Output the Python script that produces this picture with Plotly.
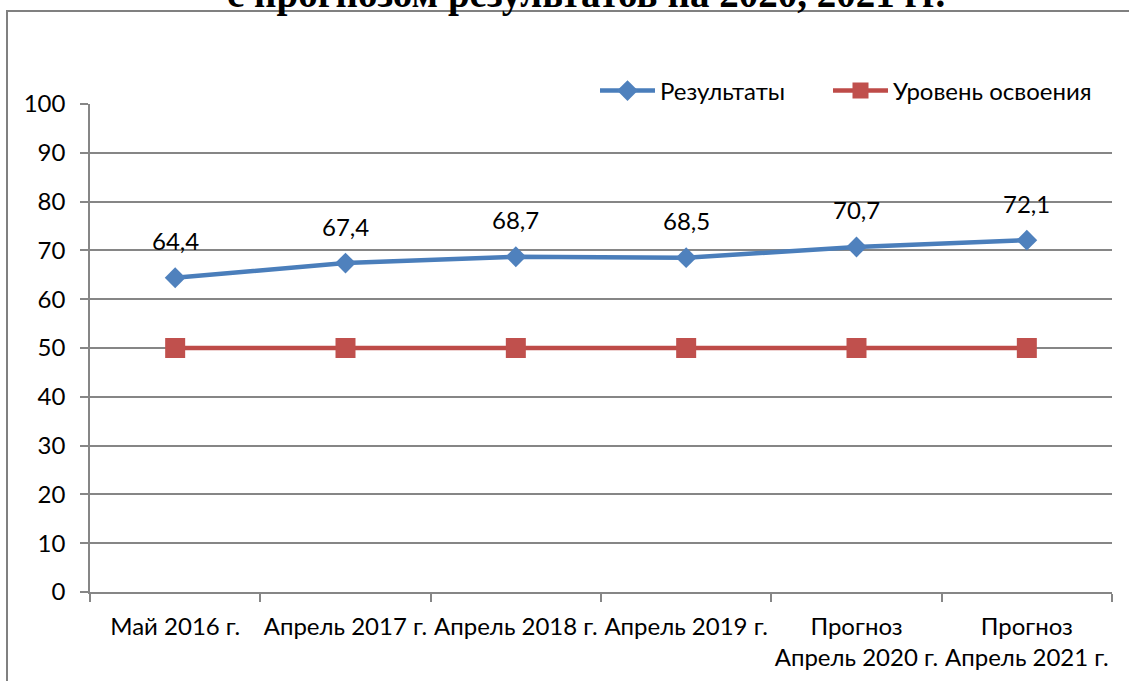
import plotly.graph_objects as go

categories = ["Май 2016 г.", "Апрель 2017 г.", "Апрель 2018 г.", "Апрель 2019 г.",
              "Прогноз<br>Апрель 2020 г.", "Прогноз<br>Апрель 2021 г."]
results = [64.4, 67.4, 68.7, 68.5, 70.7, 72.1]
mastery = [50, 50, 50, 50, 50, 50]
y_ticks = [0, 10, 20, 30, 40, 50, 60, 70, 80, 90, 100]
title_text = "с прогнозом результатов на 2020, 2021 гг."

FONT = "Lato"
FS = 24
BLUE = "#4A7EBB"
RED = "#BE4B48"
GRID = "#868686"

# plot area in pixels
W, H = 1129, 681
L, R, T, B = 90, 17, 104, 89
pw, ph = W - L - R, H - T - B

def px_x(x):
    return (x - L) / pw

def px_y(y):
    return (H - B - y) / ph

fig = go.Figure()
fig.add_trace(go.Scatter(
    x=categories, y=results, name="Результаты", mode="lines+markers",
    line=dict(color=BLUE, width=4.5), legend="legend",
    marker=dict(symbol="diamond", size=16, color="#4F81BD", line=dict(width=0)),
))
fig.add_trace(go.Scatter(
    x=categories, y=mastery, name="Уровень освоения", mode="lines+markers",
    line=dict(color=RED, width=4.5), legend="legend2",
    marker=dict(symbol="square", size=20, color="#C0504D", line=dict(width=0)),
))

annotations = []
for c, v in zip(categories, results):
    annotations.append(dict(
        x=c, y=v, xref="x", yref="y", text=f"{v:.1f}".replace(".", ","),
        showarrow=False, yshift=37, font=dict(family=FONT, size=FS, color="#000000"),
    ))
annotations.append(dict(
    x=px_x(586), y=px_y(-6), xref="paper", yref="paper", text=f"<b>{title_text}</b>",
    showarrow=False, xanchor="center", yanchor="middle",
    font=dict(family="Liberation Serif", size=39, color="#000000"),
))

legend_common = dict(orientation="h", xanchor="left", yanchor="middle", y=px_y(91),
                     font=dict(family=FONT, size=FS, color="#000000"),
                     bgcolor="rgba(0,0,0,0)", itemwidth=55)

fig.update_layout(
    width=W, height=H,
    margin=dict(l=L, r=R, t=T, b=B, autoexpand=False),
    paper_bgcolor="white", plot_bgcolor="white",
    font=dict(family=FONT, size=FS, color="#000000"),
    showlegend=True,
    legend=dict(x=px_x(595), **legend_common),
    legend2=dict(x=px_x(828), **legend_common),
    annotations=annotations,
    shapes=[dict(type="rect", xref="paper", yref="paper",
                 x0=px_x(7), x1=px_x(1140), y0=px_y(700), y1=px_y(11),
                 line=dict(color="#808080", width=2), fillcolor="rgba(0,0,0,0)", layer="below")],
)
fig.update_xaxes(
    type="category", tickson="boundaries", showgrid=False, tickangle=0,
    showline=True, linecolor=GRID, linewidth=1.5,
    ticks="outside", ticklen=8, tickcolor=GRID, tickwidth=1.5,
    tickfont=dict(family=FONT, size=FS, color="#000000"), ticklabelstandoff=12,
    range=[-0.5, len(categories) - 0.5],
)
fig.update_yaxes(
    range=[0, 100], tickvals=y_ticks, showgrid=True, gridcolor=GRID, gridwidth=1.5,
    showline=True, linecolor=GRID, linewidth=1.5, zeroline=False,
    ticks="outside", ticklen=8, tickcolor=GRID, tickwidth=1.5,
    tickfont=dict(family=FONT, size=FS, color="#000000"), ticklabelstandoff=10,
)

fig.write_html("out.html", config={"displayModeBar": False},
               post_script="document.body.style.margin='0';")
